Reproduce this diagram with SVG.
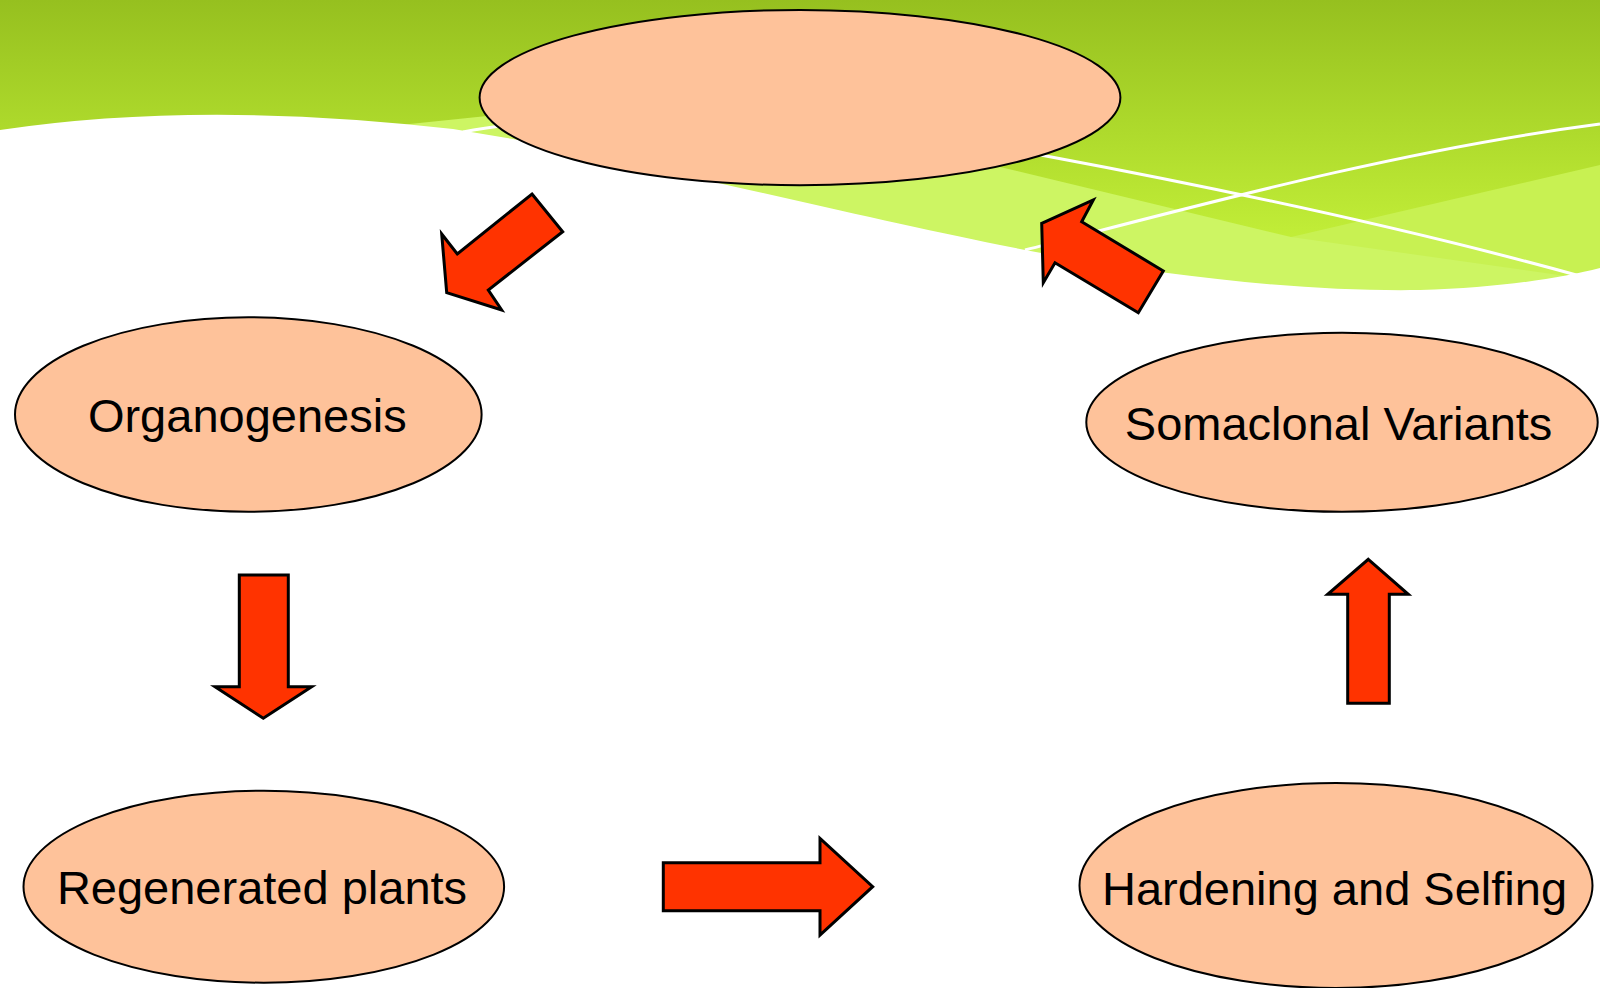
<svg xmlns="http://www.w3.org/2000/svg" width="1600" height="988" viewBox="0 0 1600 988">
  <defs>
    <linearGradient id="bgGreen" x1="0" y1="0" x2="0" y2="300" gradientUnits="userSpaceOnUse">
      <stop offset="0" stop-color="#96c01f"/>
      <stop offset="0.4" stop-color="#acd82b"/>
      <stop offset="0.8" stop-color="#c2ee38"/>
      <stop offset="1" stop-color="#c6f23c"/>
    </linearGradient>
    <style>
      .node ellipse { fill: #fec29a; stroke: #000; stroke-width: 2; }
      .node text { font-family: "Liberation Sans", Arial, sans-serif; font-size: 47px; fill: #000; text-anchor: middle; }
      .arrow { fill: #ff3300; stroke: #000; stroke-width: 3; stroke-linejoin: miter; }
      .wline { fill: none; stroke: #fff; stroke-width: 3; }
    </style>
  </defs>

  <!-- background -->
  <g id="background">
    <rect x="0" y="0" width="1600" height="320" fill="url(#bgGreen)"/>
    <path d="M1291,237 L1600,165 L1600,320 L1291,320 Z" fill="#c8f152"/>
    <path d="M400,125 L487,116 L1000,167 L1291,237 L1580,278 L1580,320 L400,320 Z" fill="#cdf563"/>
    <path d="M0,130 Q200,100 453,129 L513,139 C650,165 850,215 1000,245 C1150,275 1300,292 1420,290 C1500,288 1560,278 1600,268 L1600,988 L0,988 Z" fill="#ffffff"/>
    <path class="wline" d="M463,132 C560,112 800,110 1046,156 C1292,202 1450,240 1580,276"/>
    <path class="wline" d="M1025,250 C1200,205 1400,150 1600,124"/>
  </g>

  <!-- connectors -->
  <g id="connectors">
    <polygon class="arrow" points="532,194 562.7,231.7 488.3,290 501.7,310 446.7,292.7 441.7,234 457.3,254"/>
    <polygon class="arrow" points="239.3,575 288.3,575 288.3,686.7 311.7,686.7 263.3,718.3 215,686.7 239.3,686.7"/>
    <polygon class="arrow" points="663.3,862.7 820,862.7 820,838.3 872.7,886.7 820,935 820,910.7 663.3,910.7"/>
    <polygon class="arrow" points="1368.3,559.3 1408.3,594.3 1389.3,594.3 1389.3,703.3 1347.7,703.3 1347.7,594.3 1327.7,594.3"/>
    <polygon class="arrow" points="1041.7,223.3 1093.3,200 1081.7,221.7 1163.3,271 1138.3,312.7 1055,262.7 1043.3,282.7"/>
  </g>

  <!-- nodes -->
  <g id="node-top" class="node">
    <ellipse cx="800" cy="97.6" rx="320.4" ry="87.6"/>
  </g>
  <g id="node-organogenesis" class="node">
    <ellipse cx="248.3" cy="414.5" rx="233.3" ry="97.2"/>
    <text x="247.3" y="431.7">Organogenesis</text>
  </g>
  <g id="node-regenerated" class="node">
    <ellipse cx="263.8" cy="886.7" rx="240.3" ry="96"/>
    <text x="262" y="904">Regenerated plants</text>
  </g>
  <g id="node-hardening" class="node">
    <ellipse cx="1336" cy="885.5" rx="256.5" ry="102.5"/>
    <text x="1334.5" y="905">Hardening and Selfing</text>
  </g>
  <g id="node-somaclonal" class="node">
    <ellipse cx="1342" cy="422.3" rx="255.7" ry="89.5"/>
    <text x="1338.6" y="440">Somaclonal Variants</text>
  </g>
</svg>
